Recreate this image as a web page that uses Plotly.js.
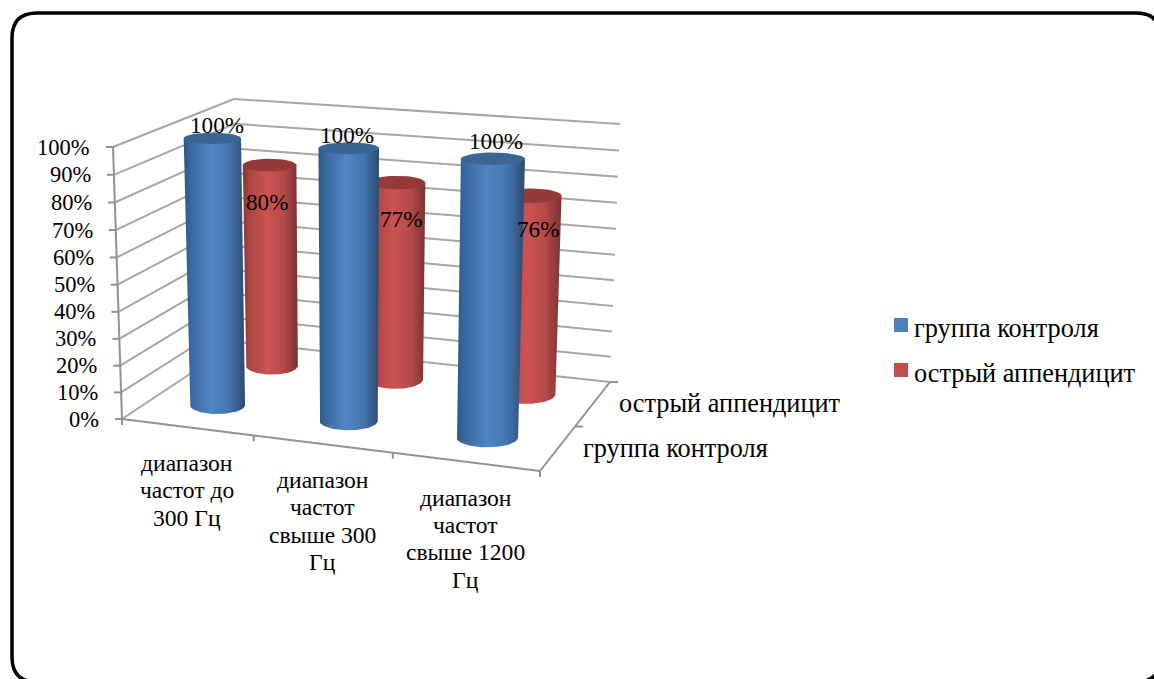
<!DOCTYPE html>
<html lang="ru">
<head>
<meta charset="utf-8">
<title>Диапазоны частот</title>
<script src="https://cdn.plot.ly/plotly-3.0.1.min.js"></script>
<style>html,body{margin:0;padding:0;background:#fff}#chart{width:1154px;height:679px}</style>
</head>
<body>
<div id="chart"></div>
<script>
// Chart content
const categories = [
  ['диапазон', 'частот до', '300 Гц'],
  ['диапазон', 'частот', 'свыше 300', 'Гц'],
  ['диапазон', 'частот', 'свыше 1200', 'Гц']
];
const seriesNames = ['группа контроля', 'острый аппендицит'];
const controlValues = [100, 100, 100];
const appendicitisValues = [80, 77, 76];
const percentTicks = [0, 10, 20, 30, 40, 50, 60, 70, 80, 90, 100];

// Pseudo-3D box: screen position of each corner, indexed [u][v][w]
const box = {
  l: {front: {lo: [122, 419], hi: [113, 147]}, back: {lo: [238, 342], hi: [234, 99]}},
  r: {front: {lo: [540, 471], hi: [548, 180]}, back: {lo: [610, 382], hi: [620, 124]}}
};
const perspectiveU = 0.92, perspectiveW = 0.975;
const mix = (a, b, k) => a + (b - a) * k;
const mixPt = (a, b, k) => [mix(a[0], b[0], k), mix(a[1], b[1], k)];
const warp = (t, p) => t * p / (t * p + 1 - t);

// Maps category position u (0..1), depth v (0..1) and value w (0..100) to the plane
function project(u, v, w) {
  const s = warp(u, perspectiveU);
  const k = warp(w / 100, perspectiveW);
  const side = c => mixPt(mixPt(c.front.lo, c.front.hi, k), mixPt(c.back.lo, c.back.hi, k), v);
  return mixPt(side(box.l), side(box.r), s);
}

const traces = [];
const GRID = '#a6a6a6', AXIS = '#929292';

function polyline(segments, color, width) {
  const x = [], y = [];
  segments.forEach(seg => {
    seg.forEach(p => { x.push(p[0]); y.push(p[1]); });
    x.push(null); y.push(null);
  });
  traces.push({type: 'scatter', mode: 'lines', x, y, hoverinfo: 'skip', showlegend: false,
    line: {color, width}});
}

// Walls: value gridlines on the back and left sides
polyline(percentTicks.map(t => [project(0, 1, t), project(1, 1, t)]), GRID, 2);
polyline(percentTicks.map(t => [project(0, 0, t), project(0, 1, t)]), GRID, 2);

// Axis lines and tick marks
const shift = (p, dx, dy) => [p[0] + dx, p[1] + dy];
const axisSegs = [
  [project(0, 0, 0), project(0, 0, 100)],
  [project(0, 0, 0), project(1, 0, 0)],
  [project(1, 0, 0), project(1, 1, 0)]
];
percentTicks.forEach(t => axisSegs.push([project(0, 0, t), shift(project(0, 0, t), -7, 0)]));
[0, 1, 2, 3].forEach(i => axisSegs.push([project(i / 3, 0, 0), shift(project(i / 3, 0, 0), 0, 6)]));
[0.5, 1].forEach(v => axisSegs.push([project(1, v, 0), shift(project(1, v, 0), 8, 0)]));
polyline(axisSegs, AXIS, 2);

// Cylinders
const RADIUS_U = 0.072, RADIUS_V = 0.115, STEPS = 48;
const shades = [
  {top: '#3b6593', scale: [[0, '#2e5683'], [0.14, '#3c6ba3'], [0.45, '#5185c6'], [0.75, '#4474ae'], [1, '#2b4a70']]},
  {top: '#933a39', scale: [[0, '#87393a'], [0.14, '#ae4644'], [0.45, '#cb5352'], [0.75, '#b54a48'], [1, '#7c3231']]}
];

function ellipseAt(u, v, w) {
  const c = project(u, v, w);
  return {
    cx: c[0], cy: c[1],
    a: Math.abs(project(u + RADIUS_U, v, w)[0] - project(u - RADIUS_U, v, w)[0]) / 2,
    b: Math.abs(project(u, v + RADIUS_V, w)[1] - project(u, v - RADIUS_V, w)[1]) / 2
  };
}

function cylinder(u, v, value, shade, name) {
  const t = ellipseAt(u, v, value), b = ellipseAt(u, v, 0);
  const bx = [], by = [];
  bx.push(t.cx - t.a); by.push(t.cy);
  for (let i = 0; i <= STEPS; i++) {
    const ang = Math.PI - Math.PI * i / STEPS;
    bx.push(b.cx + b.a * Math.cos(ang)); by.push(b.cy + b.b * Math.sin(ang));
  }
  bx.push(t.cx + t.a); by.push(t.cy);
  bx.push(bx[0]); by.push(by[0]);
  traces.push({type: 'scatter', mode: 'lines', x: bx, y: by, name, fill: 'toself',
    line: {width: 0, color: 'rgba(0,0,0,0)'}, hoverinfo: 'skip', showlegend: false,
    fillgradient: {type: 'horizontal', colorscale: shade.scale,
      start: Math.min(...bx), stop: Math.max(...bx)}});
  const tx = [], ty = [];
  for (let i = 0; i <= STEPS; i++) {
    const ang = 2 * Math.PI * i / STEPS;
    tx.push(t.cx + t.a * Math.cos(ang)); ty.push(t.cy + t.b * Math.sin(ang));
  }
  traces.push({type: 'scatter', mode: 'lines', x: tx, y: ty, name, fill: 'toself', fillcolor: shade.top,
    line: {width: 0, color: 'rgba(0,0,0,0)'}, hoverinfo: 'skip', showlegend: false});
}

const ROW_DEPTH = [0.28, 0.78];
const catPos = i => (i + 0.5) / categories.length;
// The far row goes first so the near row overlaps it
appendicitisValues.forEach((val, i) => cylinder(catPos(i), ROW_DEPTH[1], val, shades[1], seriesNames[1]));
controlValues.forEach((val, i) => cylinder(catPos(i), ROW_DEPTH[0], val, shades[0], seriesNames[0]));

// Text
const SERIF = '"Liberation Serif", "Times New Roman", serif';
const notes = [];
function note(text, p, size, xanchor) {
  notes.push({text, x: p[0], y: p[1], xref: 'x', yref: 'y', showarrow: false, xanchor, yanchor: 'middle',
    borderpad: 0, font: {family: SERIF, size, color: '#000'}});
}
percentTicks.forEach(t => note(t + '%', shift(project(0, 0, t), -22, 0), 22.5, 'right'));

const CAT_LINE = 27.3;
categories.forEach((lines, i) => lines.forEach((line, j) =>
  note(line, shift(project(catPos(i), 0, 0), 0.5, 36 + j * CAT_LINE), 23.6, 'center')));

const AXIS_LABEL_SIZE = 26.3;
note(seriesNames[0], shift(project(1, 0.5, 0), 7, 22), AXIS_LABEL_SIZE, 'left');
note(seriesNames[1], shift(project(1, 1, 0), 8, 21), AXIS_LABEL_SIZE, 'left');

// Value labels sit above the near row and inside the far row
const VALUE_SIZE = 23.2;
const nearNudge = [[5, -13], [-2, -13.5], [3, -18]];
const farNudge = [[-2, 36.5], [4.5, 36], [7, 33]];
controlValues.forEach((val, i) => note(val + '%', shift(project(catPos(i), ROW_DEPTH[0], val), nearNudge[i][0], nearNudge[i][1]), VALUE_SIZE, 'center'));
appendicitisValues.forEach((val, i) => note(val + '%', shift(project(catPos(i), ROW_DEPTH[1], val), farNudge[i][0], farNudge[i][1]), VALUE_SIZE, 'center'));

// Legend entries
const legendColors = ['#4f81bd', '#c0504d'];
seriesNames.forEach((name, i) => {
  const y = 325 + i * 45;
  traces.push({type: 'scatter', mode: 'markers', x: [901], y: [y], name, hoverinfo: 'skip', showlegend: false,
    marker: {symbol: 'square', size: 14, color: legendColors[i]}});
  note(name, [913, y + 3], AXIS_LABEL_SIZE, 'left');
});

// Rounded page border, running off the right and bottom edges
const L = 12, T = 13, R = 1161, B = 682, C = 25;
const borderPath = `M ${L + C} ${T} L ${R - C} ${T} Q ${R} ${T} ${R} ${T + C} L ${R} ${B - C} Q ${R} ${B} ${R - C} ${B} L ${L + C} ${B} Q ${L} ${B} ${L} ${B - C} L ${L} ${T + C} Q ${L} ${T} ${L + C} ${T} Z`;

const layout = {
  width: 1154, height: 679,
  margin: {l: 0, r: 0, t: 0, b: 0},
  paper_bgcolor: '#fff', plot_bgcolor: '#fff',
  showlegend: false,
  xaxis: {range: [0, 1154], visible: false, fixedrange: true},
  yaxis: {range: [679, 0], visible: false, fixedrange: true},
  annotations: notes,
  shapes: [{type: 'path', path: borderPath, xref: 'x', yref: 'y', line: {color: '#000', width: 3.5}, fillcolor: 'rgba(0,0,0,0)', layer: 'below'}]
};

Plotly.newPlot('chart', traces, layout, {displayModeBar: false, staticPlot: true});
</script>
</body>
</html>
